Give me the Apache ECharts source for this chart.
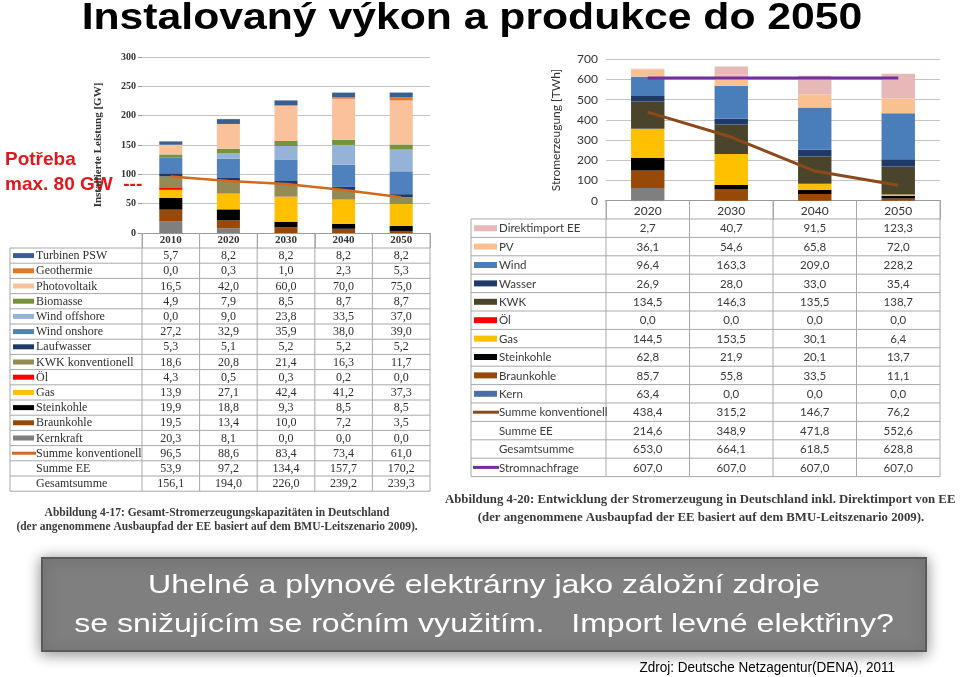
<!DOCTYPE html>
<html>
<head>
<meta charset="utf-8">
<script src="https://cdn.jsdelivr.net/npm/echarts@6/dist/echarts.min.js"></script>
<style>
html,body{margin:0;padding:0;background:#fff;}
#chart{width:960px;height:677px;}
</style>
</head>
<body>
<div id="chart"></div>
<script>
// ---------- DATA: left chart (Installierte Leistung [GW]) ----------
const leftYears = ['2010', '2020', '2030', '2040', '2050'];
const turbinenPSW = [5.7, 8.2, 8.2, 8.2, 8.2];
const geothermie = [0.0, 0.3, 1.0, 2.3, 5.3];
const photovoltaik = [16.5, 42.0, 60.0, 70.0, 75.0];
const biomasse = [4.9, 7.9, 8.5, 8.7, 8.7];
const windOffshore = [0.0, 9.0, 23.8, 33.5, 37.0];
const windOnshore = [27.2, 32.9, 35.9, 38.0, 39.0];
const laufwasser = [5.3, 5.1, 5.2, 5.2, 5.2];
const kwkKonventionell = [18.6, 20.8, 21.4, 16.3, 11.7];
const oelL = [4.3, 0.5, 0.3, 0.2, 0.0];
const gasL = [13.9, 27.1, 42.4, 41.2, 37.3];
const steinkohleL = [19.9, 18.8, 9.3, 8.5, 8.5];
const braunkohleL = [19.5, 13.4, 10.0, 7.2, 3.5];
const kernkraft = [20.3, 8.1, 0.0, 0.0, 0.0];
const summeKonvL = [96.5, 88.6, 83.4, 73.4, 61.0];
const summeEEL = [53.9, 97.2, 134.4, 157.7, 170.2];
const gesamtsummeL = [156.1, 194.0, 226.0, 239.2, 239.3];
const leftTicks = [0, 50, 100, 150, 200, 250, 300];

// ---------- DATA: right chart (Stromerzeugung [TWh]) ----------
const rightYears = ['2020', '2030', '2040', '2050'];
const direktimportEE = [2.7, 40.7, 91.5, 123.3];
const pvR = [36.1, 54.6, 65.8, 72.0];
const windR = [96.4, 163.3, 209.0, 228.2];
const wasserR = [26.9, 28.0, 33.0, 35.4];
const kwkR = [134.5, 146.3, 135.5, 138.7];
const oelR = [0.0, 0.0, 0.0, 0.0];
const gasR = [144.5, 153.5, 30.1, 6.4];
const steinkohleR = [62.8, 21.9, 20.1, 13.7];
const braunkohleR = [85.7, 55.8, 33.5, 11.1];
const kernR = [63.4, 0.0, 0.0, 0.0];
const summeKonvR = [438.4, 315.2, 146.7, 76.2];
const summeEER = [214.6, 348.9, 471.8, 552.6];
const gesamtsummeR = [653.0, 664.1, 618.5, 628.8];
const stromnachfrage = [607.0, 607.0, 607.0, 607.0];
const rightTicks = [0, 100, 200, 300, 400, 500, 600, 700];

// ---------- texts ----------
const titleText = 'Instalovaný výkon a produkce do 2050';
const redText1 = 'Potřeba';
const redText2 = 'max. 80 GW  ---';
const leftAxisName = 'Installierte Leistung [GW]';
const rightAxisName = 'Stromerzeugung [TWh]';
const leftCaption1 = 'Abbildung 4-17: Gesamt-Stromerzeugungskapazitäten in Deutschland';
const leftCaption2 = '(der angenommene Ausbaupfad der EE basiert auf dem BMU-Leitszenario 2009).';
const rightCaption1 = 'Abbildung 4-20: Entwicklung der Stromerzeugung in Deutschland inkl. Direktimport von EE';
const rightCaption2 = '(der angenommene Ausbaupfad der EE basiert auf dem BMU-Leitszenario 2009).';
const boxLine1 = 'Uhelné a plynové elektrárny jako záložní zdroje';
const boxLine2 = 'se snižujícím se ročním využitím.   Import levné elektřiny?';
const sourceText = 'Zdroj: Deutsche Netzagentur(DENA), 2011';

// ---------- table row definitions (top to bottom) ----------
const leftRows = [
  {name: 'Turbinen PSW', values: turbinenPSW, color: '#3a5f8e', kind: 'rect', bar: true},
  {name: 'Geothermie', values: geothermie, color: '#e0782a', kind: 'rect', bar: true},
  {name: 'Photovoltaik', values: photovoltaik, color: '#f9c29a', kind: 'rect', bar: true},
  {name: 'Biomasse', values: biomasse, color: '#76923c', kind: 'rect', bar: true},
  {name: 'Wind offshore', values: windOffshore, color: '#95b3d7', kind: 'rect', bar: true},
  {name: 'Wind onshore', values: windOnshore, color: '#4f81bd', kind: 'rect', bar: true},
  {name: 'Laufwasser', values: laufwasser, color: '#1f3a68', kind: 'rect', bar: true},
  {name: 'KWK konventionell', values: kwkKonventionell, color: '#948a54', kind: 'rect', bar: true},
  {name: 'Öl', values: oelL, color: '#ff0000', kind: 'rect', bar: true},
  {name: 'Gas', values: gasL, color: '#ffc000', kind: 'rect', bar: true},
  {name: 'Steinkohle', values: steinkohleL, color: '#000000', kind: 'rect', bar: true},
  {name: 'Braunkohle', values: braunkohleL, color: '#984807', kind: 'rect', bar: true},
  {name: 'Kernkraft', values: kernkraft, color: '#7f7f7f', kind: 'rect', bar: true},
  {name: 'Summe konventionell', values: summeKonvL, color: '#d2691e', kind: 'line', line: true},
  {name: 'Summe EE', values: summeEEL, kind: 'none'},
  {name: 'Gesamtsumme', values: gesamtsummeL, kind: 'none'}
];
const rightRows = [
  {name: 'Direktimport EE', values: direktimportEE, color: '#e6b9b8', kind: 'rect', bar: true},
  {name: 'PV', values: pvR, color: '#fac090', kind: 'rect', bar: true},
  {name: 'Wind', values: windR, color: '#4a7ebb', kind: 'rect', bar: true},
  {name: 'Wasser', values: wasserR, color: '#1f3a68', kind: 'rect', bar: true},
  {name: 'KWK', values: kwkR, color: '#4a452a', kind: 'rect', bar: true},
  {name: 'Öl', values: oelR, color: '#ff0000', kind: 'rect', bar: true},
  {name: 'Gas', values: gasR, color: '#ffc000', kind: 'rect', bar: true},
  {name: 'Steinkohle', values: steinkohleR, color: '#000000', kind: 'rect', bar: true},
  {name: 'Braunkohle', values: braunkohleR, color: '#984807', kind: 'rect', bar: true},
  {name: 'Kern', values: kernR, color: '#7f7f7f', swatch: '#4a6fa5', kind: 'rect', bar: true},
  {name: 'Summe konventionell', values: summeKonvR, color: '#8b4a1c', kind: 'line', line: true},
  {name: 'Summe EE', values: summeEER, kind: 'none'},
  {name: 'Gesamtsumme', values: gesamtsummeR, kind: 'none'},
  {name: 'Stromnachfrage', values: stromnachfrage, color: '#7030a0', kind: 'line', line: true}
];

function fmt(v) { return v.toFixed(1).replace('.', ','); }

const series = [];
// stacked bars bottom -> top = reverse of table order
leftRows.filter(r => r.bar).slice().reverse().forEach(r => {
  series.push({type: 'bar', name: r.name, xAxisIndex: 0, yAxisIndex: 0, stack: 'L',
    barWidth: '40%', data: r.values, itemStyle: {color: r.color}, silent: true});
});
leftRows.filter(r => r.line).forEach(r => {
  series.push({type: 'line', name: r.name + ' L', xAxisIndex: 0, yAxisIndex: 0, data: r.values,
    showSymbol: false, lineStyle: {color: r.color, width: 2.5}, z: 5, silent: true});
});
rightRows.filter(r => r.bar).slice().reverse().forEach(r => {
  series.push({type: 'bar', name: r.name + ' R', xAxisIndex: 1, yAxisIndex: 1, stack: 'R',
    barWidth: '40%', data: r.values, itemStyle: {color: r.color}, silent: true});
});
rightRows.filter(r => r.line).forEach(r => {
  series.push({type: 'line', name: r.name + ' R', xAxisIndex: 1, yAxisIndex: 1, data: r.values,
    showSymbol: false, lineStyle: {color: r.color, width: 3}, z: 5, silent: true});
});

// ---------- table graphics ----------
const graphic = [];
const gridColor = '#a8a8a8';
function hline(x1, x2, y) {
  graphic.push({type: 'line', silent: true, shape: {x1: x1, y1: y, x2: x2, y2: y},
    style: {stroke: gridColor, lineWidth: 1}});
}
function vline(x, y1, y2) {
  graphic.push({type: 'line', silent: true, shape: {x1: x, y1: y1, x2: x, y2: y2},
    style: {stroke: gridColor, lineWidth: 1}});
}
function text(t, x, y, font, fill, align, sx) {
  graphic.push({type: 'text', silent: true, x: x, y: y, scaleX: sx || 1,
    style: {text: t, font: font, fill: fill, textAlign: align || 'left', textVerticalAlign: 'middle'}});
}

function buildTable(cfg) {
  const n = cfg.rows.length;
  const colW = (cfg.right - cfg.colStart) / cfg.ncol;
  for (let i = 0; i <= n; i++) hline(cfg.left, cfg.right, cfg.top + i * cfg.rowH);
  const bottom = cfg.top + n * cfg.rowH;
  vline(cfg.left, cfg.top, bottom);
  for (let c = 0; c <= cfg.ncol; c++) vline(cfg.colStart + c * colW, cfg.headerTop, bottom);
  cfg.rows.forEach((r, i) => {
    const cy = cfg.top + (i + 0.5) * cfg.rowH;
    if (r.kind === 'rect') {
      graphic.push({type: 'rect', silent: true,
        shape: {x: cfg.swX0, y: cy - cfg.swH / 2, width: cfg.swX1 - cfg.swX0, height: cfg.swH},
        style: {fill: r.swatch || r.color}});
    } else if (r.kind === 'line') {
      graphic.push({type: 'line', silent: true,
        shape: {x1: cfg.swX0 - 1, y1: cy, x2: cfg.swX1 + 2, y2: cy},
        style: {stroke: r.color, lineWidth: 3}});
    }
    text(r.name, cfg.labelX, cy + cfg.dy, cfg.font, cfg.fill, 'left');
    r.values.forEach((v, c) => {
      text(fmt(v), cfg.colStart + (c + 0.5) * colW, cy + cfg.dy, cfg.font, cfg.fill, 'center');
    });
  });
}

buildTable({rows: leftRows, left: 10, right: 430, colStart: 142, ncol: 5, top: 248, rowH: 15.2,
  headerTop: 233, swX0: 13, swX1: 34, swH: 5, labelX: 36, dy: 0.5,
  font: '12px "Liberation Serif"', fill: '#2e2e2e'});
buildTable({rows: rightRows, left: 471, right: 940, colStart: 606, ncol: 4, top: 219, rowH: 18.4,
  headerTop: 200, swX0: 474, swX1: 497, swH: 6, labelX: 499, dy: 0.5,
  font: '11.5px "Lato"', fill: '#3a3a3a'});

// title, red note, captions
text(titleText, 472, 19, 'bold 37px "Liberation Sans"', '#000000', 'center', 1.154);
text(redText1, 5, 160, 'bold 19px "Liberation Sans"', '#e3161b', 'left');
text(redText2, 5, 185, 'bold 19px "Liberation Sans"', '#e3161b', 'left');
text(leftCaption1, 217, 513, 'bold 11.5px "Liberation Serif"', '#3a3a3a', 'center');
text(leftCaption2, 217, 527, 'bold 11.5px "Liberation Serif"', '#3a3a3a', 'center');
text(rightCaption1, 445, 500, 'bold 12.8px "Liberation Serif"', '#3a3a3a', 'left');
text(rightCaption2, 701, 518, 'bold 12.8px "Liberation Serif"', '#3a3a3a', 'center');

// grey box
graphic.push({type: 'rect', silent: true, shape: {x: 42, y: 558, width: 884, height: 93},
  style: {fill: '#7f7f7f', stroke: '#5a5a5a', lineWidth: 2,
    shadowBlur: 14, shadowColor: 'rgba(0,0,0,0.45)', shadowOffsetX: 0, shadowOffsetY: 2}});
text(boxLine1, 484, 586, '26px "Liberation Sans"', '#ffffff', 'center', 1.233);
text(boxLine2, 484, 625, '26px "Liberation Sans"', '#ffffff', 'center', 1.233);
text(sourceText, 895, 668, '15px "Liberation Sans"', '#000000', 'right', 0.9);

const option = {
  animation: false,
  backgroundColor: '#ffffff',
  grid: [
    {left: 142, top: 57, width: 288, height: 176},
    {left: 606, top: 59.3, width: 334, height: 141.4}
  ],
  xAxis: [
    {type: 'category', gridIndex: 0, data: leftYears, boundaryGap: true,
      axisLine: {lineStyle: {color: '#9a9a9a'}},
      axisTick: {show: true, length: 15, interval: 0, lineStyle: {color: gridColor}},
      axisLabel: {margin: 2, interval: 0, fontFamily: 'Liberation Serif', fontWeight: 'bold', fontSize: 11, color: '#333'}},
    {type: 'category', gridIndex: 1, data: rightYears, boundaryGap: true,
      axisLine: {lineStyle: {color: '#9a9a9a'}},
      axisTick: {show: true, length: 19, interval: 0, lineStyle: {color: gridColor}},
      axisLabel: {margin: 4, interval: 0, fontFamily: 'Lato', fontSize: 12, color: '#333'}}
  ],
  yAxis: [
    {type: 'value', gridIndex: 0, min: leftTicks[0], max: leftTicks[leftTicks.length - 1], interval: 50,
      name: leftAxisName, nameLocation: 'middle', nameGap: 38, nameRotate: 90,
      nameTextStyle: {fontFamily: 'Liberation Serif', fontWeight: 'bold', fontSize: 11, color: '#333'},
      axisLine: {show: false}, axisTick: {show: true, length: 4, lineStyle: {color: '#9a9a9a'}},
      axisLabel: {margin: 6, fontFamily: 'Liberation Serif', fontWeight: 'bold', fontSize: 10, color: '#333'},
      splitLine: {lineStyle: {color: '#c4c4c4'}}},
    {type: 'value', gridIndex: 1, min: rightTicks[0], max: rightTicks[rightTicks.length - 1], interval: 100,
      name: rightAxisName, nameLocation: 'middle', nameGap: 44, nameRotate: 90,
      nameTextStyle: {fontFamily: 'Lato', fontSize: 12, color: '#333'},
      axisLine: {show: false}, axisTick: {show: false},
      axisLabel: {margin: 8, fontFamily: 'Lato', fontSize: 12, color: '#333'},
      splitLine: {lineStyle: {color: '#c4c4c4'}}}
  ],
  series: series,
  graphic: graphic
};

const chart = echarts.init(document.getElementById('chart'), null, {renderer: 'canvas'});
chart.setOption(option);
</script>
</body>
</html>
